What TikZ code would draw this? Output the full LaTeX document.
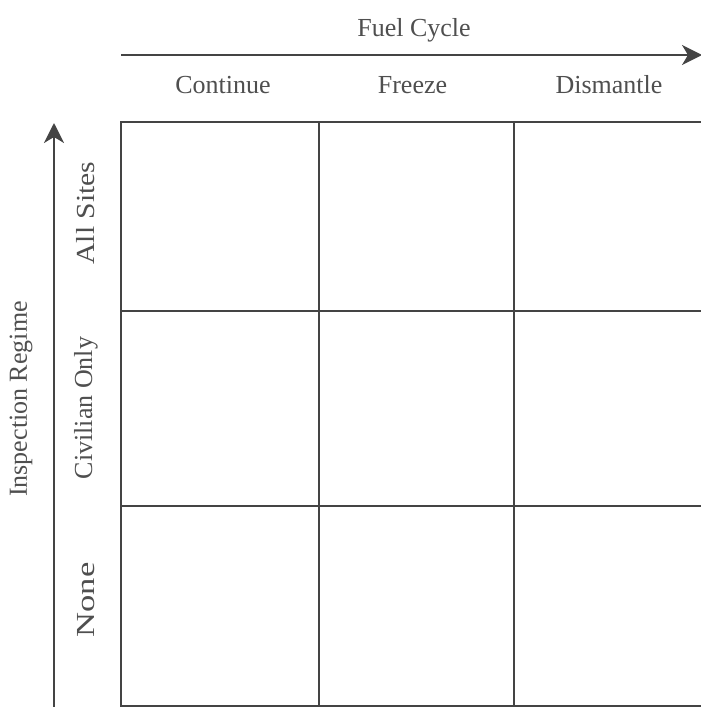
\documentclass[tikz,border=0pt]{standalone}
\usepackage{fontspec}
\setmainfont{Liberation Serif}
\usetikzlibrary{arrows.meta,positioning}
\definecolor{ink}{HTML}{444444}
\definecolor{txt}{HTML}{4F4F4F}

\begin{document}
\begin{tikzpicture}[x=1pt,y=-1pt,line width=2pt,draw=ink,
  lbl/.style={text=txt,font=\fontsize{26}{31}\selectfont,inner sep=0pt},
  axis/.style={ink,-{Stealth[length=20pt,width=20pt,inset=6pt]}}]
\useasboundingbox (0,0) rectangle (701,707);
% grid
\draw[ink] (121,122) rectangle (712,706);
\draw[ink] (319,122) -- (319,706) (514,122) -- (514,706)
  (121,311) -- (712,311) (121,506) -- (712,506);
% axes
\coordinate (xs) at (121,55);
\coordinate (xe) at (702,55);
\coordinate (ys) at (54,710);
\coordinate (ye) at (54,123);
\draw[axis] (xs) -- (xe);
\draw[axis] (ys) -- (ye);
% labels
\node[lbl] (fuel) at (414,30) {Fuel Cycle};
\node[lbl] (cont) at (223,85) {Continue};
\node[lbl] (frz) at (412.5,85) {Freeze};
\node[lbl] (dis) at (609,85) {Dismantle};
\node[lbl,rotate=90] (insp) at (21,399) {Inspection Regime};
\node[lbl,rotate=90,xscale=1.14] (all) at (86,213) {All Sites};
\node[lbl,rotate=90] (civ) at (86,408) {Civilian Only};
\node[lbl,rotate=90,xscale=1.33] (none) at (86,600) {None};
\end{tikzpicture}
\end{document}
